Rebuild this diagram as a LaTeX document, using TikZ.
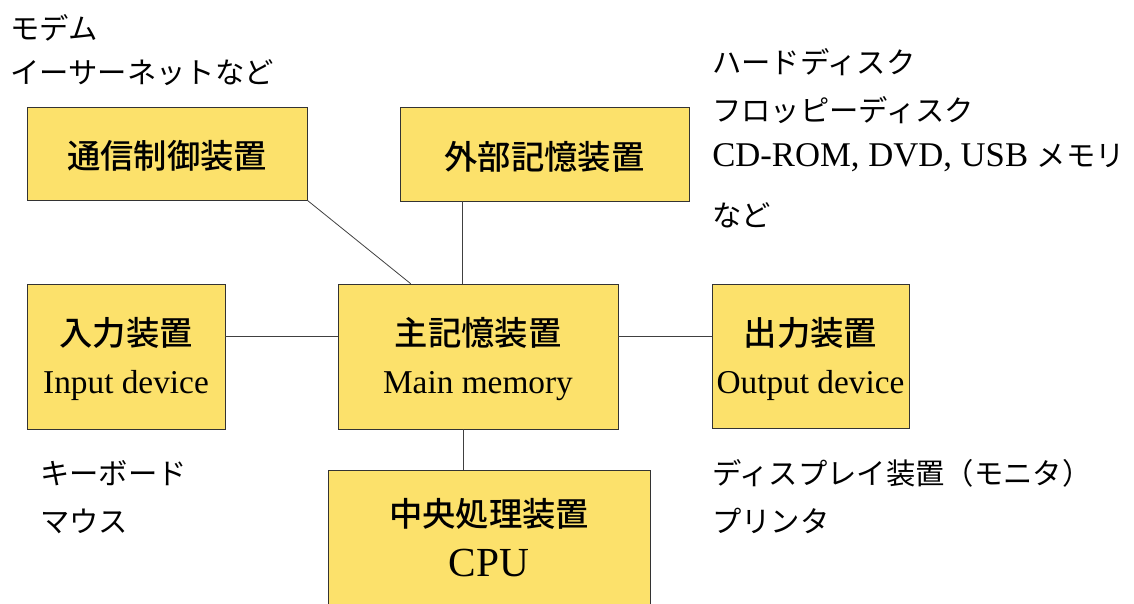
\documentclass[tikz,border=0pt]{standalone}
\usepackage{fontspec}
\setmainfont{Liberation Serif}
\newfontfamily\jp{Noto Sans CJK JP}
\newfontfamily\jpm{Noto Sans CJK JP Medium}
\newcommand{\sunk}[1]{\raisebox{-2pt}[\height][\depth]{#1}}
\definecolor{boxyellow}{RGB}{252,225,107}
\tikzset{
	unitbox/.style={draw=black!80, fill=boxyellow, inner sep=0pt, align=center,
		font=\fontsize{25}{36}\selectfont},
	note/.style={anchor=west, inner sep=0pt, font=\jp\fontsize{22}{26}\selectfont},
	wire/.style={draw=black!75, line width=0.6pt}
}
\begin{document}
\begin{tikzpicture}[x=0.75pt, y=-0.75pt]
		\useasboundingbox (0,0) rectangle (1134,603);
		\clip (0,0) rectangle (1134,603);

		\node[unitbox, minimum width=210pt, minimum height=69.75pt] (comm) at (167,153.5) {\sunk{\jpm 通信制御装置}};
		\node[unitbox, minimum width=216.75pt, minimum height=70.5pt] (ext) at (544.5,154) {\sunk{\jpm 外部記憶装置}};
		\node[unitbox, minimum width=148.5pt, minimum height=108.75pt] (in) at (126,356.5) {\sunk{\jpm 入力装置}\\\sunk{Input device}};
		\node[unitbox, minimum width=210pt, minimum height=108.75pt] (main) at (478,356.5) {\sunk{\jpm 主記憶装置}\\\sunk{Main memory}};
		\node[unitbox, minimum width=147.75pt, minimum height=108pt] (out) at (810.5,356) {\sunk{\jpm 出力装置}\\\sunk{Output device}};
		\node[unitbox, minimum width=241.5pt, minimum height=101.25pt] (cpu) at (489,537.5) {{\jpm 中央処理装置}\\[2pt]{\fontsize{31}{36}\selectfont CPU}};

		\draw[wire] (comm.south east) -- ([xshift=54.75pt]main.north west);
		\draw[wire] ([xshift=47.25pt]ext.south west) -- ([xshift=47.25pt]ext.south west |- main.north);
		\draw[wire] ([yshift=15.4pt]in.east) -- ([yshift=15.4pt]main.west);
		\draw[wire] ([yshift=15.4pt]main.east) -- ([yshift=15.4pt]main.east -| out.west);
		\draw[wire] ([xshift=-11.25pt]main.south) -- ([xshift=-11.25pt]main.south |- cpu.north);

		\node[note] (modem) at (10,28) {モデム};
		\node[note] (ether) at (10,73) {イーサーネットなど};
		\node[note] (hdd) at (712,62) {ハードディスク};
		\node[note] (fdd) at (712,110) {フロッピーディスク};
		\node[note] (media) at (712,158) {\rmfamily\fontsize{26}{30}\selectfont CD-ROM, DVD, USB {\jp\fontsize{22}{26}\selectfont メモリ}};
		\node[note] (etc) at (712,215) {など};
		\node[note] (keys) at (40,473) {キーボード};
		\node[note] (mouse) at (40,521) {マウス};
		\node[note] (disp) at (712,473) {ディスプレイ装置（モニタ）};
		\node[note] (print) at (712,521) {プリンタ};

	\end{tikzpicture}
\end{document}
